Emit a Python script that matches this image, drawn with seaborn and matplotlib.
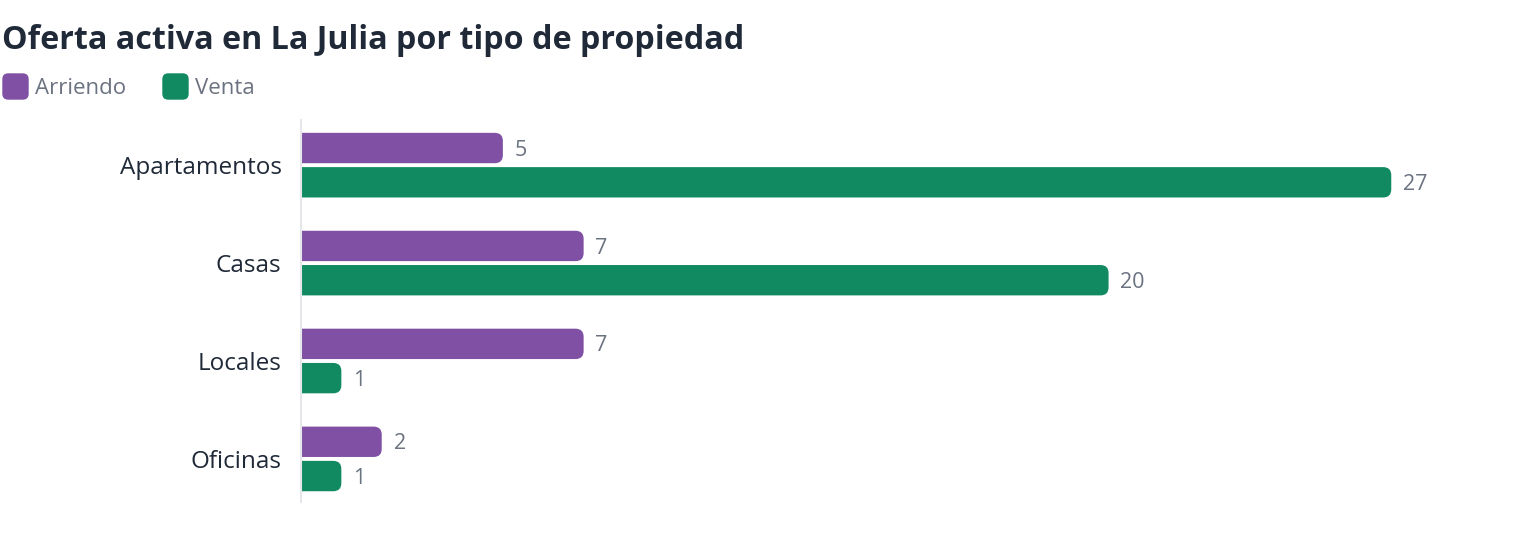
import seaborn as sns
import matplotlib.pyplot as plt
import pandas as pd
from matplotlib.patches import FancyBboxPatch
from matplotlib.lines import Line2D

# data
tipos = ["Apartamentos", "Casas", "Locales", "Oficinas"]
arriendo = [5, 7, 7, 2]
venta = [27, 20, 1, 1]
series = ["Arriendo", "Venta"]

colors = ["#7f50a3", "#118a62"]
text_grey = "#6b7280"
dark = "#1f2937"

df = pd.DataFrame({
    "tipo": tipos * 2,
    "oferta": series[0:1] * len(tipos) + series[1:2] * len(tipos),
    "valor": arriendo + venta,
})

sns.set_theme(style="white")
plt.rcParams['font.family'] = ['Open Sans', 'DejaVu Sans']

fig = plt.figure(figsize=(15.2, 5.44), dpi=100)
ax = fig.add_axes([0.198, 0.0772, 0.797, 0.702])

sns.barplot(
    data=df, x="valor", y="tipo", hue="oferta", orient="h",
    palette=colors, saturation=1, width=0.7, gap=0.114, legend=False, ax=ax,
)

ax.set_xlim(0, 30)
ax.set_ylim(3.44, -0.46)

# rounded bar ends
aspect = (ax.bbox.width / 30) / (ax.bbox.height / 3.9)
for p in list(ax.patches):
    x, y = p.get_x(), p.get_y()
    w, h = p.get_width(), p.get_height()
    fc = p.get_facecolor()
    p.remove()
    rb = FancyBboxPatch(
        (x - 0.5, y), w + 0.5, h,
        boxstyle="round,pad=0,rounding_size=0.2",
        mutation_aspect=aspect,
        facecolor=fc, edgecolor="none", clip_on=True,
    )
    ax.add_patch(rb)
    ax.annotate(
        f"{int(round(w))}", (w, y + h / 2), xytext=(8.5, -1.5),
        textcoords="offset points", va="center", ha="left",
        fontsize=15.5, color=text_grey,
    )

# axes styling
sns.despine(ax=ax, left=False, bottom=True)
ax.spines["left"].set_color("#e5e7eb")
ax.spines["left"].set_linewidth(1.5)
ax.set_xticks([])
ax.set_xlabel("")
ax.set_ylabel("")
ax.tick_params(axis="y", length=0, pad=14, labelsize=17.5, labelcolor=dark)

# title
fig.text(0.001, 0.926, "Oferta activa en La Julia por tipo de propiedad",
         fontsize=23.2, fontweight="bold", color=dark, va="center", ha="left")

# legend with rounded squares
sq = FancyBboxPatch((-1, -1), 2, 2, boxstyle="round,pad=0,rounding_size=0.45").get_path()
handles = [
    Line2D([], [], marker=sq, linestyle="none", markersize=19,
           markerfacecolor=c, markeredgecolor="none")
    for c in colors
]
leg = fig.legend(
    handles, series, loc="center left", bbox_to_anchor=(-0.005, 0.838),
    ncol=2, frameon=False, fontsize=16, handletextpad=0.3,
    columnspacing=1.6, handlelength=1.2, borderaxespad=0,
)
for t in leg.get_texts():
    t.set_color(text_grey)

plt.savefig("out.png", dpi=100)
